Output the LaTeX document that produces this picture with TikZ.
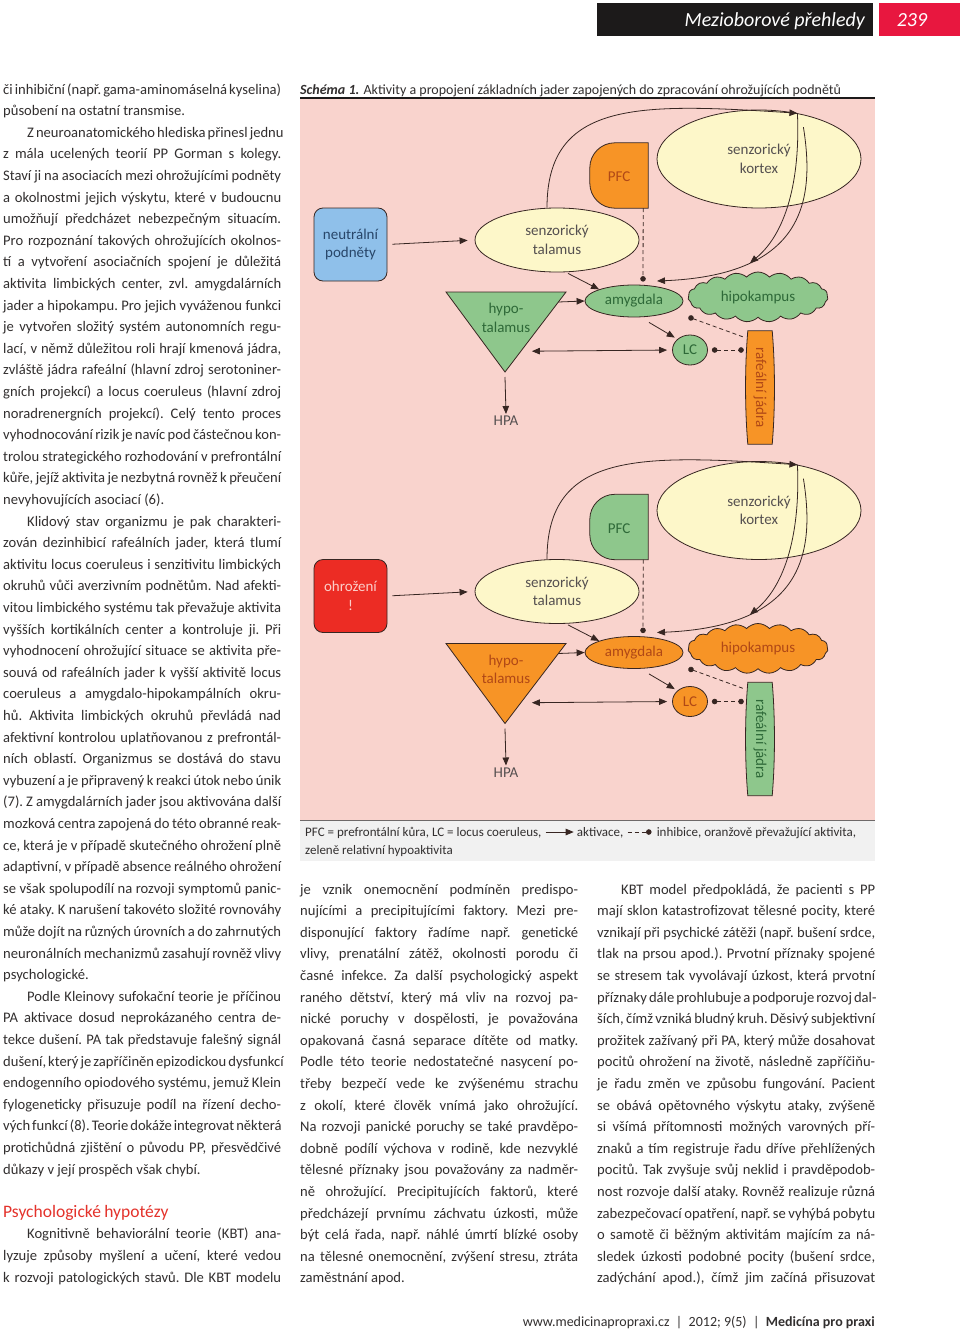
\documentclass[tikz,border=0pt]{standalone}
\usepackage{fontspec}
\setmainfont{Carlito}
\usetikzlibrary{shapes.geometric,shapes.symbols,arrows.meta,calc}
\definecolor{pinkbg}{RGB}{249,211,205}
\definecolor{yel}{RGB}{253,247,201}
\definecolor{grn}{RGB}{142,199,140}
\definecolor{grntxt}{RGB}{46,105,56}
\definecolor{org}{RGB}{247,148,38}
\definecolor{orgtxt}{RGB}{176,72,22}
\definecolor{blu}{RGB}{143,192,234}
\definecolor{blutxt}{RGB}{40,70,105}
\definecolor{redf}{RGB}{236,44,36}
\definecolor{redtxt}{RGB}{252,205,200}
\definecolor{strk}{RGB}{55,38,34}
\definecolor{lbltxt}{RGB}{85,80,80}
\definecolor{bodytxt}{RGB}{50,47,47}
\definecolor{headred}{RGB}{228,50,43}
\definecolor{hdred}{RGB}{232,23,63}
\definecolor{hdblack}{RGB}{28,26,26}
\definecolor{capgray}{RGB}{241,241,241}
\definecolor{capline}{RGB}{110,105,105}
\newcommand\bodyfont{\fontsize{14.6pt}{21.6pt}\selectfont}
\newcommand\lblfont{\fontsize{15pt}{18.5pt}\selectfont}
\newcommand\capfont{\fontsize{13pt}{15pt}\selectfont}
\newcommand\JLine[1]{\hbox to 278pt{#1}}
\newcommand\LLine[1]{\hbox to 278pt{#1\hfil}}
\newcommand\ILine[1]{\hbox to 278pt{\hskip24pt #1}}
\newcommand\colsetup{\bodyfont\frenchspacing\baselineskip=21.6pt\spaceskip=0.23em plus 0.6em minus 0.09em\relax}
\tikzset{
  ln/.style={draw=strk, line width=0.8pt},
  act/.style={ln, -{Triangle[length=8pt,width=6.5pt]}},
  dact/.style={ln, {Triangle[length=8pt,width=6.5pt]}-{Triangle[length=8pt,width=6.5pt]}},
  inh/.style={ln, dash pattern=on 4pt off 3pt, -{Circle[length=5.5pt]}},
  dinh/.style={ln, dash pattern=on 4pt off 3pt, {Circle[length=5.5pt]}-{Circle[length=5.5pt]}},
  lbl/.style={font=\lblfont, align=center, text=lbltxt, inner sep=0pt},
  yell/.style={ellipse, ln, fill=yel, lbl},
  capt/.style={font=\capfont, text=bodytxt, inner sep=0pt},
}
\newcommand\panel[1]{%
  \node[stim] (#1st) at (350.5,244.5) {\stimtext};
  \node[yell, minimum width=164pt, minimum height=64pt] (#1tal) at (557,240) {senzorický\\talamus};
  \node[yell, minimum width=204pt, minimum height=98pt] (#1kor) at (759,159) {senzorický\\kortex};
  \node[inner sep=0pt, minimum width=58pt, minimum height=65pt] (#1pfc) at (619,175.5) {};
  \draw[ln, ctlfill] (#1pfc.north east) [rounded corners=25pt] -- (#1pfc.north west) -- (#1pfc.south west) [sharp corners] -- (#1pfc.south east) -- cycle;
  \node[lbl, ctltext] (#1pfct) at ($(#1pfc.center)+(0,1.5)$) {PFC};
  \node[ellipse, ln, actfill, lbl, acttext, minimum width=98pt, minimum height=32pt] (#1amy) at (634,301) {amygdala};
  \node[cloud, cloud puffs=19, cloud puff arc=95, aspect=2.8, ln, actfill, lbl, acttext, minimum width=140pt, minimum height=50pt] (#1hip) at (758,297) {hipokampus};
  \node[ellipse, ln, actfill, lbl, acttext, minimum width=35pt, minimum height=30pt] (#1lc) at (690,350) {LC};
  \node[inner sep=0pt, minimum width=24pt, minimum height=113pt] (#1raf) at (760,387.5) {};
  \draw[ln, ctlfill] (#1raf.north west) -- (#1raf.north east) .. controls +(3,35) and +(3,-35) .. (#1raf.south east) -- (#1raf.south west) .. controls +(-3,-35) and +(-3,35) .. (#1raf.north west) -- cycle;
  \node[lbl, ctltext, rotate=-90] (#1raft) at (#1raf.center) {rafeální jádra};
  \coordinate (#1hA) at (446,292);
  \coordinate (#1hB) at (566,292);
  \coordinate (#1hC) at (505,372);
  \draw[ln, actfill] (#1hA) -- (#1hB) -- (#1hC) -- cycle;
  \node[lbl, acttext] (#1hyp) at (506,318) {hypo-\\talamus};
  \node[lbl] (#1hpa) at (506,421) {HPA};
  \draw[act] ($(#1hC)+(0,5)$) -- ($(#1hpa.north)+(0,-2)$);
  \draw[act, shorten <=5pt, shorten >=7pt] (#1st.east) -- (#1tal.west);
  \draw[act] ($(#1tal.south)+(11,1)$) -- (#1amy.north west);
  \draw[act] ($(#1hB)!0.125!(#1hC)$) -- (#1amy.west);
  \draw[dact, shorten >=5pt] ($(#1hB)!0.74!(#1hC)+(11,0)$) -- (#1lc.west);
  \draw[act, shorten >=3pt] ($(#1amy.south)+(15,5)$) -- (#1lc.north west);
  \draw[act] ($(#1tal.north)+(-10,0)$) .. controls (547,100) and (640,103) .. (#1kor.50);
  \draw[act] (#1kor.50) .. controls (800,170) and (790,230) .. ($(#1hip.center)+(-8,-34)$);
  \draw[act] ($(#1kor.50)+(6,14)$) .. controls (815,200) and (805,275) .. ($(#1amy.center)+(23,-20)$);
  \draw[inh] ($(#1pfc.south east)+(-5,0)$) -- ($(#1amy.north)+(9,-3)$);
  \draw[inh] ($(#1raf.north west)+(-5,6)$) -- ($(#1amy.east)+(5,16)$);
  \draw[dinh, shorten <=4pt, shorten >=4pt] (#1lc.east) -- (#1raf.west |- #1lc.east);
}
\begin{document}
\begin{tikzpicture}[x=1pt,y=-1pt]
\useasboundingbox (0,0) rectangle (960,1330);
\fill[white] (0,0) rectangle (960,1330);
% header
\fill[hdblack] (597,3) rectangle (873,36);
\fill[hdred] (879,3) rectangle (960,36);
\node[anchor=base east, inner sep=0pt, text=white, font=\fontsize{20pt}{24pt}\selectfont\itshape] (hdr) at (865,27) {Mezioborové přehledy};
\node[anchor=base, inner sep=0pt, text=white, font=\fontsize{20pt}{24pt}\selectfont\itshape] (pg) at (912,27) {239};
% scheme title
\node[anchor=base west, inner sep=0pt, text=bodytxt, font=\fontsize{14pt}{16pt}\selectfont] (ttl) at (300,94) {{\bfseries\itshape Schéma 1.} Aktivity a propojení základních jader zapojených do zpracování ohrožujících podnětů};
\fill[pinkbg] (300,98) rectangle (875,820);
\draw[line width=1.6pt, draw=hdblack] (300,98) -- (875,98);
\fill[capgray] (300,820) rectangle (875,861);
\draw[line width=1.5pt, draw=capline] (300,820.5) -- (875,820.5);
% top panel
\begin{scope}[stim/.style={ln, fill=blu, rounded corners=9pt, minimum width=73pt, minimum height=73pt, lbl, text=blutxt},
  actfill/.style={fill=grn}, acttext/.style={text=grntxt},
  ctlfill/.style={fill=org}, ctltext/.style={text=orgtxt}]
\def\stimtext{neutrální\\podněty}
\panel{a}
\end{scope}
% bottom panel
\begin{scope}[shift={(0,351.5)}, stim/.style={ln, fill=redf, rounded corners=9pt, minimum width=73pt, minimum height=73pt, lbl, text=redtxt},
  actfill/.style={fill=org}, acttext/.style={text=orgtxt},
  ctlfill/.style={fill=grn}, ctltext/.style={text=grntxt}]
\def\stimtext{ohrožení\\!}
\panel{b}
\end{scope}
% caption
\node[capt, anchor=base west] (cap1) at (305,836) {PFC = prefrontální kůra, LC = locus coeruleus,};
\draw[act] ($(cap1.base east)+(4,-4)$) -- ++(28,0) coordinate (capa);
\node[capt, anchor=base west] (cap2) at ($(capa)+(3,4)$) {aktivace,};
\draw[inh] ($(cap2.base east)+(4,-4)$) -- ++(24,0) coordinate (capb);
\node[capt, anchor=base west] (cap3) at ($(capb)+(5,4)$) {inhibice, oranžově převažující aktivita,};
\node[capt, anchor=base west] (cap4) at (305,854) {zeleně relativní hypoaktivita};
% column 1
\node[anchor=base west, inner sep=0pt, text=bodytxt] (col1) at (3,94) {\colsetup\vtop{%
\JLine{či inhibiční (např. gama-aminomáselná kyselina)}
\LLine{působení na ostatní transmise.}
\ILine{Z neuroanatomického hlediska přinesl jednu}
\JLine{z mála ucelených teorií PP Gorman s kolegy.}
\JLine{Staví ji na asociacích mezi ohrožujícími podněty}
\JLine{a okolnostmi jejich výskytu, které v budoucnu}
\JLine{umožňují předcházet nebezpečným situacím.}
\JLine{Pro rozpoznání takových ohrožujících okolnos-}
\JLine{tí a vytvoření asociačních spojení je důležitá}
\JLine{aktivita limbických center, zvl. amygdalárních}
\JLine{jader a hipokampu. Pro jejich vyváženou funkci}
\JLine{je vytvořen složitý systém autonomních regu-}
\JLine{lací, v němž důležitou roli hrají kmenová jádra,}
\JLine{zvláště jádra rafeální (hlavní zdroj serotoniner-}
\JLine{gních projekcí) a locus coeruleus (hlavní zdroj}
\JLine{noradrenergních projekcí). Celý tento proces}
\JLine{vyhodnocování rizik je navíc pod částečnou kon-}
\JLine{trolou strategického rozhodování v prefrontální}
\JLine{kůře, jejíž aktivita je nezbytná rovněž k přeučení}
\LLine{nevyhovujících asociací (6).}
\ILine{Klidový stav organizmu je pak charakteri-}
\JLine{zován dezinhibicí rafeálních jader, která tlumí}
\JLine{aktivitu locus coeruleus i senzitivitu limbických}
\JLine{okruhů vůči averzivním podnětům. Nad afekti-}
\JLine{vitou limbického systému tak převažuje aktivita}
\JLine{vyšších kortikálních center a kontroluje ji. Při}
\JLine{vyhodnocení ohrožující situace se aktivita pře-}
\JLine{souvá od rafeálních jader k vyšší aktivitě locus}
\JLine{coeruleus a amygdalo-hipokampálních okru-}
\JLine{hů. Aktivita limbických okruhů převládá nad}
\JLine{afektivní kontrolou uplatňovanou z prefrontál-}
\JLine{ních oblastí. Organizmus se dostává do stavu}
\JLine{vybuzení a je připravený k reakci útok nebo únik}
\JLine{(7). Z amygdalárních jader jsou aktivována další}
\JLine{mozková centra zapojená do této obranné reak-}
\JLine{ce, která je v případě skutečného ohrožení plně}
\JLine{adaptivní, v případě absence reálného ohrožení}
\JLine{se však spolupodílí na rozvoji symptomů panic-}
\JLine{ké ataky. K narušení takovéto složité rovnováhy}
\JLine{může dojít na různých úrovních a do zahrnutých}
\JLine{neuronálních mechanizmů zasahují rovněž vlivy}
\LLine{psychologické.}
\ILine{Podle Kleinovy sufokační teorie je příčinou}
\JLine{PA aktivace dosud neprokázaného centra de-}
\JLine{tekce dušení. PA tak představuje falešný signál}
\JLine{dušení, který je zapříčiněn epizodickou dysfunkcí}
\JLine{endogenního opiodového systému, jemuž Klein}
\JLine{fylogeneticky přisuzuje podíl na řízení decho-}
\JLine{vých funkcí (8). Teorie dokáže integrovat některá}
\JLine{protichůdná zjištění o původu PP, přesvědčivé}
\LLine{důkazy v její prospěch však chybí.}
\hbox{}
\hbox{\color{headred}\fontsize{17.5pt}{20pt}\selectfont Psychologické hypotézy}
\ILine{Kognitivně behaviorální teorie (KBT) ana-}
\JLine{lyzuje způsoby myšlení a učení, které vedou}
\JLine{k rozvoji patologických stavů. Dle KBT modelu}
}};
% column 2
\node[anchor=base west, inner sep=0pt, text=bodytxt] (col2) at (300,894) {\colsetup\vtop{%
\JLine{je vznik onemocnění podmíněn predispo-}
\JLine{nujícími a precipitujícími faktory. Mezi pre-}
\JLine{disponující faktory řadíme např. genetické}
\JLine{vlivy, prenatální zátěž, okolnosti porodu či}
\JLine{časné infekce. Za další psychologický aspekt}
\JLine{raného dětství, který má vliv na rozvoj pa-}
\JLine{nické poruchy v dospělosti, je považována}
\JLine{opakovaná časná separace dítěte od matky.}
\JLine{Podle této teorie nedostatečné nasycení po-}
\JLine{třeby bezpečí vede ke zvýšenému strachu}
\JLine{z okolí, které člověk vnímá jako ohrožující.}
\JLine{Na rozvoji panické poruchy se také pravděpo-}
\JLine{dobně podílí výchova v rodině, kde nezvyklé}
\JLine{tělesné příznaky jsou považovány za nadměr-}
\JLine{ně ohrožující. Precipitujících faktorů, které}
\JLine{předcházejí prvnímu záchvatu úzkosti, může}
\JLine{být celá řada, např. náhlé úmrtí blízké osoby}
\JLine{na tělesné onemocnění, zvýšení stresu, ztráta}
\LLine{zaměstnání apod.}
}};
% column 3
\node[anchor=base west, inner sep=0pt, text=bodytxt] (col3) at (597,894) {\colsetup\vtop{%
\ILine{KBT model předpokládá, že pacienti s PP}
\JLine{mají sklon katastrofizovat tělesné pocity, které}
\JLine{vznikají při psychické zátěži (např. bušení srdce,}
\JLine{tlak na prsou apod.). Prvotní příznaky spojené}
\JLine{se stresem tak vyvolávají úzkost, která prvotní}
\JLine{příznaky dále prohlubuje a podporuje rozvoj dal-}
\JLine{ších, čímž vzniká bludný kruh. Děsivý subjektivní}
\JLine{prožitek zažívaný při PA, který může dosahovat}
\JLine{pocitů ohrožení na životě, následně zapříčiňu-}
\JLine{je řadu změn ve způsobu fungování. Pacient}
\JLine{se obává opětovného výskytu ataky, zvýšeně}
\JLine{si všímá přítomnosti možných varovných pří-}
\JLine{znaků a tím registruje řadu dříve přehlížených}
\JLine{pocitů. Tak zvyšuje svůj neklid i pravděpodob-}
\JLine{nost rozvoje další ataky. Rovněž realizuje různá}
\JLine{zabezpečovací opatření, např. se vyhýbá pobytu}
\JLine{o samotě či běžným aktivitám majícím za ná-}
\JLine{sledek úzkosti podobné pocity (bušení srdce,}
\JLine{zadýchání apod.), čímž jim začíná přisuzovat}
}};
% footer
\node[anchor=base east, inner sep=0pt, text=bodytxt, font=\fontsize{14pt}{16pt}\selectfont] (foot) at (875,1326) {www.medicinapropraxi.cz \ | \ 2012; 9(5) \ | \ \textbf{Medicína pro praxi}};
\end{tikzpicture}
\end{document}
